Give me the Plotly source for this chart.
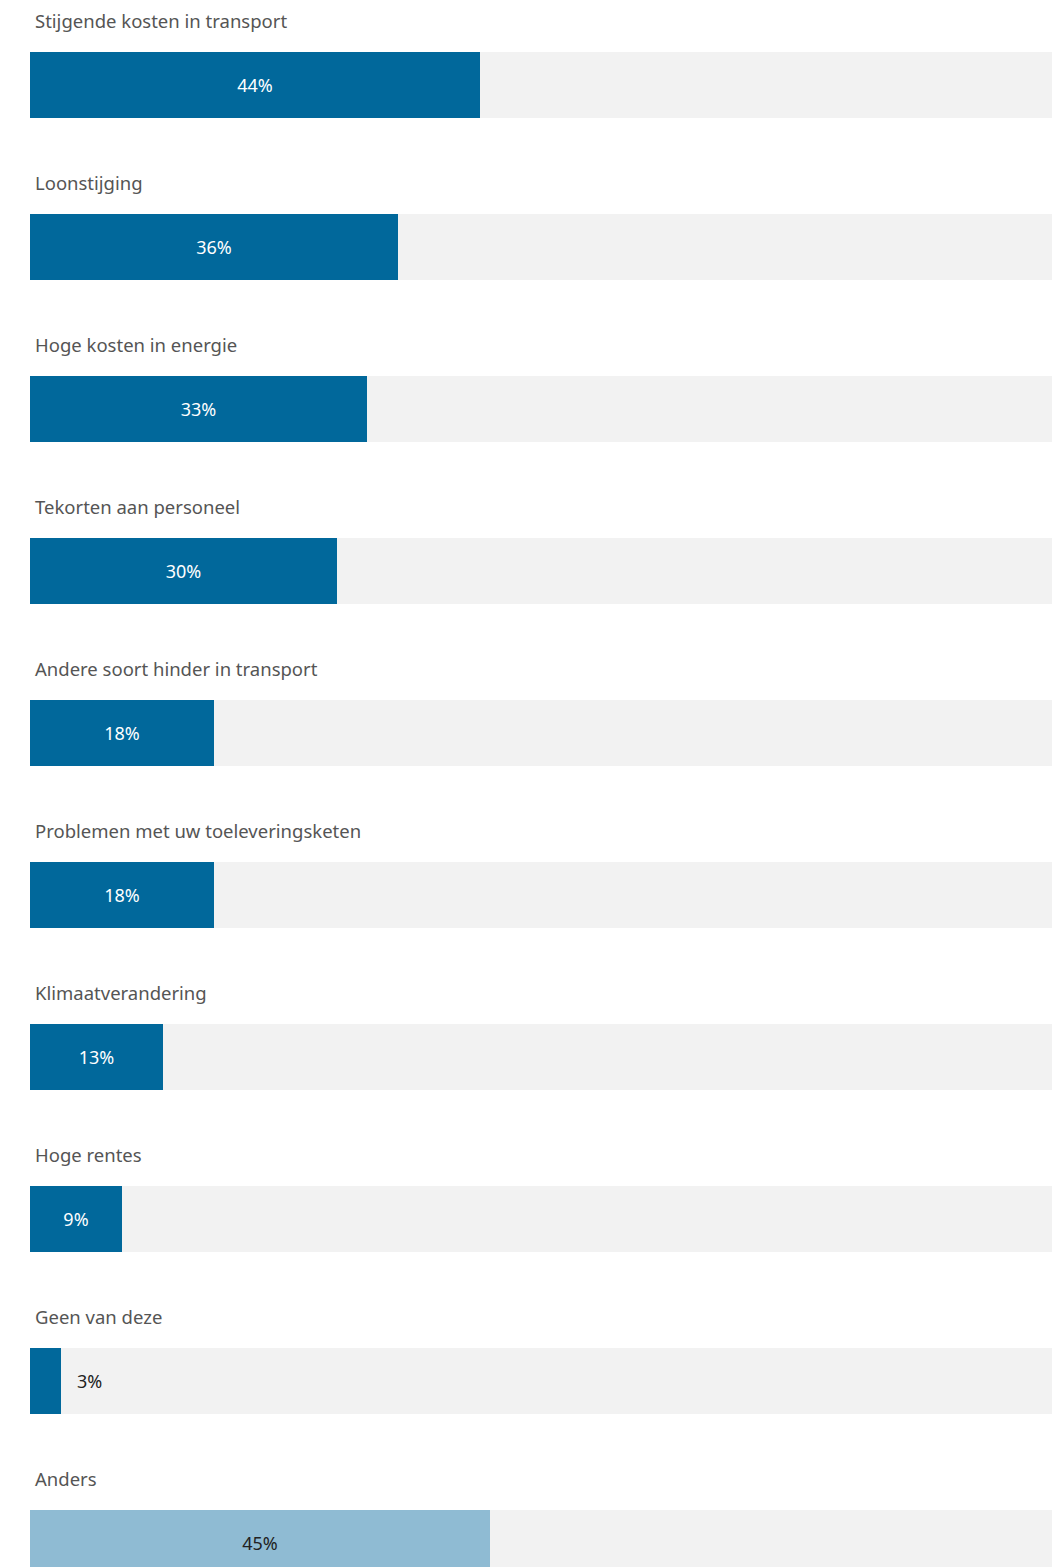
import plotly.graph_objects as go

categories = [
    "Stijgende kosten in transport",
    "Loonstijging",
    "Hoge kosten in energie",
    "Tekorten aan personeel",
    "Andere soort hinder in transport",
    "Problemen met uw toeleveringsketen",
    "Klimaatverandering",
    "Hoge rentes",
    "Geen van deze",
    "Anders",
]
values = [44, 36, 33, 30, 18, 18, 13, 9, 3, 45]
value_labels = [f"{v}%" for v in values]

DARK = "#01689b"
LIGHT = "#8fbbd3"
TRACK = "#f2f2f2"

bar_colors = [LIGHT if c == "Anders" else DARK for c in categories]
text_colors = ["#222222" if c == "Anders" else "#ffffff" for c in categories]
is_outside = [v < 5 for v in values]
inside_text = ["" if o else t for o, t in zip(is_outside, value_labels)]

ypos = list(range(len(categories)))
FONT = "Noto Sans"

fig = go.Figure()
fig.add_trace(go.Bar(
    x=[100] * len(categories), y=ypos, orientation="h",
    marker=dict(color=TRACK, line=dict(width=0)),
    width=0.407, hoverinfo="skip", showlegend=False,
))
fig.add_trace(go.Bar(
    x=values, y=ypos, orientation="h",
    marker=dict(color=bar_colors, line=dict(width=0)),
    width=0.407,
    text=inside_text, textposition="inside",
    insidetextanchor="middle",
    insidetextfont=dict(color=text_colors, size=18, family=FONT),
    textangle=0, constraintext="none", cliponaxis=False,
    hoverinfo="skip", showlegend=False,
))

for i, (v, t, o) in enumerate(zip(values, value_labels, is_outside)):
    if o:
        fig.add_annotation(
            x=v, xref="x", y=i, yref="y", text=t, showarrow=False,
            xanchor="left", yanchor="middle", xshift=14,
            font=dict(size=18, color="#222222", family=FONT),
        )

for i, c in enumerate(categories):
    fig.add_annotation(
        x=0, xref="paper", y=i - 0.401, yref="y",
        text=c, showarrow=False, xanchor="left", yanchor="middle",
        xshift=3, font=dict(size=18.5, color="#555555", family=FONT),
    )

fig.update_layout(
    width=1052, height=1567,
    margin=dict(l=30, r=0, t=0, b=0),
    paper_bgcolor="white", plot_bgcolor="white",
    barmode="overlay", bargap=0,
    xaxis=dict(range=[0, 100], visible=False, fixedrange=True),
    yaxis=dict(range=[9.148, -0.5247], visible=False, fixedrange=True),
)

fig.write_html(
    "out.html",
    config={"displayModeBar": False},
    post_script="document.body.style.margin='0';document.body.style.overflow='hidden';",
)
